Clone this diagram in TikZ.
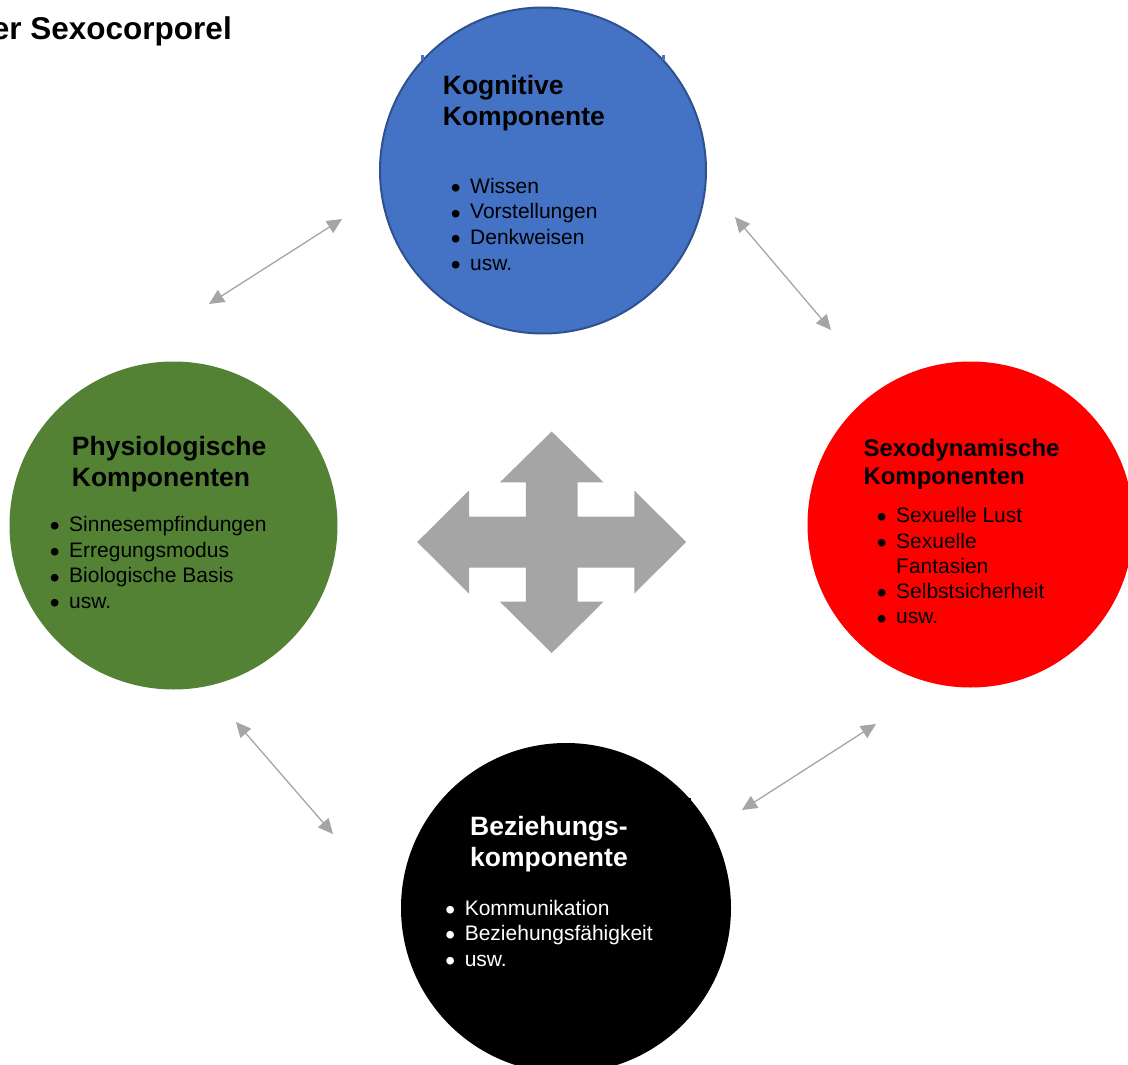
\documentclass[tikz,border=0pt]{standalone}
\usepackage{fontspec}
\setmainfont{Liberation Sans}
\usetikzlibrary{arrows.meta}
\definecolor{kblue}{HTML}{4472C4}
\definecolor{kblueline}{HTML}{2F528F}
\definecolor{kgreen}{HTML}{548235}
\definecolor{kgray}{HTML}{A5A5A5}
\newcommand{\ttlfont}{\fontsize{26.5}{31.5}\selectfont\bfseries}
\newcommand{\redttlfont}{\fontsize{24}{27.3}\selectfont\bfseries}
\newcommand{\itmfont}{\fontsize{21}{25.6}\selectfont}
\newcommand{\bul}{\makebox[19.4pt][l]{\raisebox{-4.2pt}{\fontsize{28}{28}\selectfont •}}}
\begin{document}
\begin{tikzpicture}[x=1pt,y=-1pt,
  comp/.style={circle, minimum size=326pt, inner sep=0pt},
  ttl/.style={anchor=base west, inner sep=0pt, font=\ttlfont},
  lst/.style={anchor=base west, inner sep=0pt, font=\itmfont},
  link/.style={draw=kgray, line width=1.3pt, {Triangle[length=15pt,width=14pt]}-{Triangle[length=15pt,width=14pt]}}
]
\useasboundingbox (0,0) rectangle (1128,1065);
\clip (0,0) rectangle (1128,1065);

% circles
\node[comp, fill=kblue, draw=kblueline, line width=2pt] (kog) at (543,170.5) {};
\node[comp, fill=kgreen, minimum size=328pt] (phy) at (173.5,525.5) {};
\node[comp, fill=red, minimum size=326pt] (sex) at (970.5,524.5) {};
\node[comp, fill=black, minimum size=330pt] (bez) at (566,908) {};

% small artifacts
\fill[kblue] (421,55) rectangle (424,60);
\fill[kblue] (662,55) rectangle (665,60);
\fill[black] (689,798) rectangle (691,803);

% title
\node[anchor=base east, inner sep=0pt, font=\fontsize{31.5}{36}\selectfont\bfseries] (title) at (232,40) {er Sexocorporel};

% Kognitive
\node[ttl] (kogT) at (442.7,94.3) {\begin{tabular}[t]{@{}l@{}}Kognitive\\Komponente\end{tabular}};
\node[lst] (kogL) at (450.6,193.3) {\begin{tabular}[t]{@{}l@{}l@{}}
\bul & Wissen\\ \bul & Vorstellungen\\ \bul & Denkweisen\\ \bul & usw.\end{tabular}};

% Physiologische
\node[ttl] (phyT) at (71.7,455) {\begin{tabular}[t]{@{}l@{}}Physiologische\\Komponenten\end{tabular}};
\node[lst] (phyL) at (49.6,531.7) {\begin{tabular}[t]{@{}l@{}l@{}}
\bul & Sinnesempfindungen\\ \bul & Erregungsmodus\\ \bul & Biologische Basis\\ \bul & usw.\end{tabular}};

% Sexodynamische
\node[ttl, font=\redttlfont] (sexT) at (863.3,456.7) {\begin{tabular}[t]{@{}l@{}}Sexodynamische\\Komponenten\end{tabular}};
\node[lst, font=\fontsize{21}{25.3}\selectfont] (sexL) at (876.6,522.7) {\begin{tabular}[t]{@{}l@{}l@{}}
\bul & Sexuelle Lust\\ \bul & Sexuelle\\ & Fantasien\\ \bul & Selbstsicherheit\\ \bul & usw.\end{tabular}};

% Beziehungs
\node[ttl, text=white] (bezT) at (470,835) {\begin{tabular}[t]{@{}l@{}}Beziehungs-\\komponente\end{tabular}};
\node[lst, text=white] (bezL) at (445.2,915) {\begin{tabular}[t]{@{}l@{}l@{}}
\bul & Kommunikation\\ \bul & Beziehungsfähigkeit\\ \bul & usw.\end{tabular}};

% connectors
\coordinate (a1s) at (209,304);
\coordinate (a1e) at (342,219);
\coordinate (a2s) at (735,217);
\coordinate (a2e) at (831,330);
\coordinate (a3s) at (236,722);
\coordinate (a3e) at (333,834);
\coordinate (a4s) at (876,724);
\coordinate (a4e) at (742,810);
\draw[link] (a1s) -- (a1e);
\draw[link] (a2s) -- (a2e);
\draw[link] (a3s) -- (a3e);
\draw[link] (a4s) -- (a4e);

% central four-way arrow
\fill[kgray] (551.7,431.5) -- (603.5,482.3) -- (577.5,482.3) -- (577.5,516.5)
  -- (634.3,516.5) -- (634.3,490.5) -- (686.2,542) -- (634.3,593.5) -- (634.3,567.5)
  -- (577.5,567.5) -- (577.5,601.7) -- (603.5,601.7) -- (551.7,653) -- (499.9,601.7)
  -- (525.9,601.7) -- (525.9,567.5) -- (469,567.5) -- (469,593.5) -- (417.2,542)
  -- (469,490.5) -- (469,516.5) -- (525.9,516.5) -- (525.9,482.3) -- (499.9,482.3) -- cycle;
\end{tikzpicture}
\end{document}
